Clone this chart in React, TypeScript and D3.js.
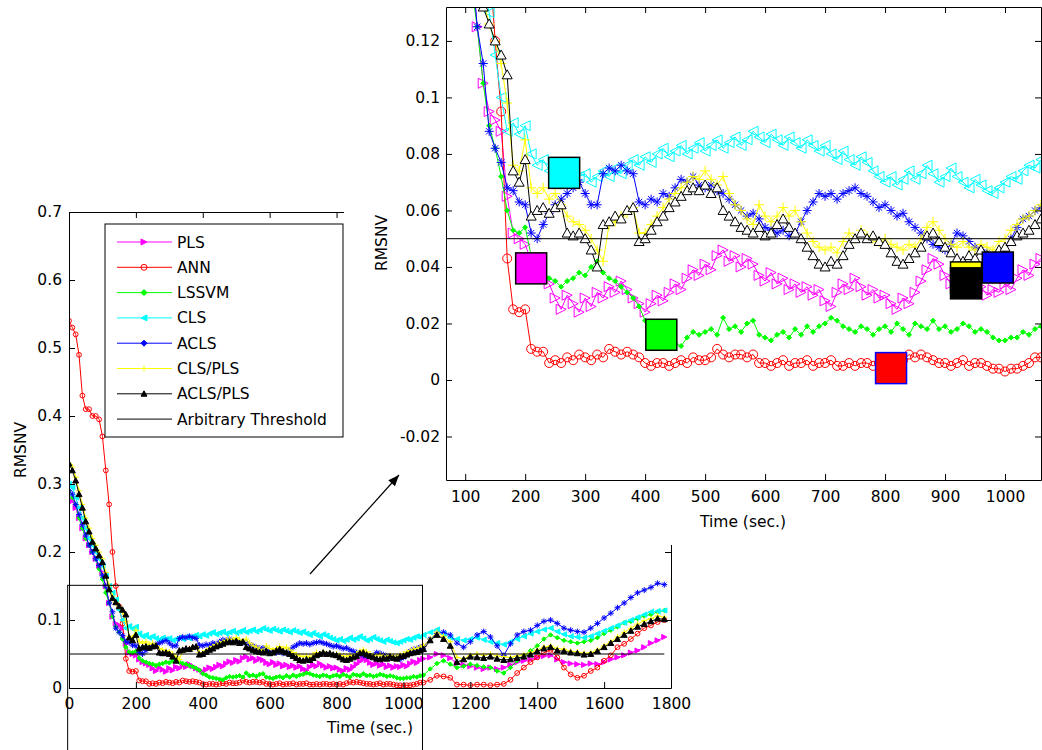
import * as d3 from "d3";
import React, { useRef, useEffect } from "react";

// sample grid: every 10 s up to 1060 s, every 20 s after that
const fineTimes = d3.range(0, 1061, 10);
const coarseTimes = d3.range(1080, 1781, 20);
const times = fineTimes.concat(coarseTimes);

const methods = ["PLS", "ANN", "LSSVM", "CLS", "ACLS", "CLS/PLS", "ACLS/PLS"];
const colors = ["#ff00ff", "#ff0000", "#00ff00", "#00ffff", "#0000ff", "#ffff00", "#000000"];
const markers = ["right", "circle", "diamond", "left", "star", "plus", "up"];

const pls = [
  0.28, 0.275, 0.265, 0.25, 0.235, 0.22, 0.21, 0.20, 0.19, 0.18,
  0.17, 0.15, 0.125, 0.105, 0.095, 0.092, 0.088, 0.065, 0.052, 0.05,
  0.048, 0.042, 0.038, 0.036, 0.034, 0.029, 0.025, 0.030, 0.027, 0.024,
  0.029, 0.026, 0.031, 0.029, 0.033, 0.031, 0.035, 0.032, 0.029, 0.027,
  0.024, 0.027, 0.030, 0.028, 0.031, 0.034, 0.032, 0.036, 0.039, 0.037,
  0.041, 0.039, 0.044, 0.046, 0.042, 0.044, 0.040, 0.043, 0.041, 0.037,
  0.035, 0.038, 0.034, 0.036, 0.032, 0.034, 0.031, 0.033, 0.030, 0.032,
  0.028, 0.026, 0.031, 0.034, 0.032, 0.036, 0.033, 0.030, 0.032, 0.029,
  0.030, 0.027, 0.025, 0.029, 0.027, 0.031, 0.035, 0.039, 0.043, 0.041,
  0.037, 0.034, 0.036, 0.033, 0.035, 0.031, 0.033, 0.030, 0.032, 0.031,
  0.034, 0.032, 0.036, 0.039, 0.037, 0.041, 0.043,
  0.045, 0.050, 0.048, 0.044, 0.036, 0.034, 0.032, 0.030, 0.028,
  0.030, 0.028, 0.030, 0.034, 0.038, 0.040, 0.042, 0.045, 0.047,
  0.048, 0.042, 0.038, 0.036, 0.035, 0.034, 0.036, 0.035, 0.038,
  0.042, 0.045, 0.048, 0.052, 0.055, 0.060, 0.066, 0.070, 0.075,
];

const ann = [
  0.54, 0.53, 0.52, 0.49, 0.43, 0.41, 0.41, 0.40, 0.40, 0.395,
  0.37, 0.32, 0.27, 0.20, 0.15, 0.12, 0.095, 0.043, 0.025, 0.024,
  0.025, 0.011, 0.010, 0.010, 0.006, 0.007, 0.006, 0.008, 0.007, 0.009,
  0.008, 0.007, 0.009, 0.008, 0.011, 0.010, 0.009, 0.010, 0.009, 0.008,
  0.006, 0.005, 0.006, 0.006, 0.005, 0.006, 0.007, 0.006, 0.008, 0.007,
  0.007, 0.008, 0.011, 0.009, 0.008, 0.009, 0.009, 0.008, 0.009, 0.006,
  0.006, 0.005, 0.006, 0.007, 0.005, 0.006, 0.006, 0.007, 0.005, 0.006,
  0.006, 0.007, 0.005, 0.005, 0.006, 0.005, 0.006, 0.006, 0.005, 0.006,
  0.005, 0.006, 0.005, 0.007, 0.009, 0.008, 0.009, 0.008, 0.007, 0.006,
  0.006, 0.005, 0.006, 0.007, 0.005, 0.006, 0.006, 0.005, 0.004, 0.004,
  0.003, 0.004, 0.004, 0.005, 0.006, 0.008, 0.008,
  0.012, 0.018, 0.017, 0.015, 0.005, 0.005, 0.004, 0.005, 0.005,
  0.004, 0.005, 0.006, 0.012, 0.022, 0.030, 0.038, 0.045, 0.052,
  0.056, 0.045, 0.030, 0.020, 0.015, 0.018, 0.025, 0.030, 0.040,
  0.048, 0.060, 0.065, 0.072, 0.080, 0.088, 0.092, 0.097, 0.100,
];

const lssvm = [
  0.29, 0.28, 0.27, 0.25, 0.235, 0.22, 0.21, 0.20, 0.19, 0.175,
  0.16, 0.14, 0.125, 0.105, 0.09, 0.082, 0.072, 0.06, 0.053, 0.052,
  0.054, 0.044, 0.040, 0.038, 0.036, 0.035, 0.033, 0.035, 0.036, 0.038,
  0.037, 0.040, 0.042, 0.038, 0.036, 0.035, 0.033, 0.031, 0.029, 0.026,
  0.021, 0.019, 0.016, 0.015, 0.014, 0.013, 0.012, 0.015, 0.017, 0.016,
  0.017, 0.018, 0.016, 0.022, 0.018, 0.019, 0.017, 0.020, 0.021, 0.016,
  0.015, 0.014, 0.016, 0.017, 0.015, 0.018, 0.016, 0.019, 0.017, 0.019,
  0.020, 0.022, 0.021, 0.019, 0.018, 0.017, 0.019, 0.018, 0.016, 0.018,
  0.019, 0.017, 0.020, 0.018, 0.016, 0.020, 0.019, 0.018, 0.021, 0.018,
  0.019, 0.017, 0.018, 0.020, 0.019, 0.017, 0.018, 0.017, 0.015, 0.014,
  0.014, 0.015, 0.015, 0.017, 0.016, 0.018, 0.019,
  0.028, 0.036, 0.040, 0.035, 0.030, 0.032, 0.035, 0.033, 0.031,
  0.030, 0.025, 0.022, 0.030, 0.040, 0.048, 0.055, 0.062, 0.072,
  0.078, 0.074, 0.070, 0.068, 0.066, 0.068, 0.070, 0.074, 0.080,
  0.085, 0.090, 0.096, 0.098, 0.102, 0.106, 0.108, 0.112, 0.114,
];

const cls = [
  0.30, 0.295, 0.28, 0.265, 0.25, 0.235, 0.22, 0.21, 0.20, 0.19,
  0.18, 0.165, 0.15, 0.14, 0.13, 0.115, 0.10, 0.088, 0.091, 0.087,
  0.090, 0.080, 0.076, 0.078, 0.074, 0.076, 0.073, 0.071, 0.074, 0.072,
  0.073, 0.070, 0.072, 0.074, 0.072, 0.075, 0.073, 0.076, 0.078, 0.076,
  0.079, 0.077, 0.080, 0.082, 0.079, 0.081, 0.083, 0.080, 0.082, 0.084,
  0.081, 0.083, 0.085, 0.082, 0.084, 0.086, 0.083, 0.085, 0.088, 0.086,
  0.084, 0.087, 0.085, 0.083, 0.086, 0.084, 0.082, 0.085, 0.083, 0.081,
  0.083, 0.080, 0.078, 0.081, 0.078, 0.076, 0.079, 0.077, 0.074, 0.072,
  0.070, 0.072, 0.069, 0.071, 0.074, 0.071, 0.073, 0.076, 0.073, 0.070,
  0.072, 0.075, 0.072, 0.070, 0.068, 0.071, 0.069, 0.067, 0.066, 0.068,
  0.070, 0.072, 0.071, 0.074, 0.076, 0.075, 0.078,
  0.082, 0.086, 0.080, 0.074, 0.072, 0.070, 0.072, 0.074, 0.071,
  0.068, 0.066, 0.064, 0.068, 0.072, 0.076, 0.080, 0.083, 0.086,
  0.088, 0.083, 0.079, 0.076, 0.075, 0.074, 0.076, 0.080, 0.084,
  0.088, 0.092, 0.096, 0.100, 0.104, 0.108, 0.112, 0.113, 0.114,
];

const acls = [
  0.29, 0.285, 0.27, 0.255, 0.24, 0.225, 0.21, 0.20, 0.19, 0.18,
  0.165, 0.15, 0.125, 0.112, 0.088, 0.082, 0.077, 0.068, 0.067, 0.063,
  0.062, 0.052, 0.050, 0.055, 0.059, 0.062, 0.064, 0.066, 0.068, 0.070,
  0.066, 0.062, 0.062, 0.073, 0.075, 0.074, 0.076, 0.074, 0.073, 0.063,
  0.062, 0.064, 0.063, 0.066, 0.065, 0.068, 0.071, 0.070, 0.072, 0.069,
  0.068, 0.069, 0.067, 0.066, 0.064, 0.062, 0.060, 0.058, 0.059, 0.057,
  0.054, 0.053, 0.052, 0.053, 0.051, 0.052, 0.056, 0.060, 0.063, 0.066,
  0.065, 0.066, 0.064, 0.066, 0.067, 0.068, 0.066, 0.065, 0.063, 0.061,
  0.062, 0.060, 0.058, 0.059, 0.056, 0.054, 0.052, 0.050, 0.048, 0.047,
  0.046, 0.048, 0.052, 0.051, 0.049, 0.047, 0.046, 0.045, 0.044, 0.042,
  0.045, 0.050, 0.054, 0.057, 0.058, 0.060, 0.061,
  0.072, 0.080, 0.082, 0.078, 0.066, 0.060, 0.068, 0.078, 0.083,
  0.075, 0.062, 0.048, 0.065, 0.078, 0.083, 0.085, 0.092, 0.098,
  0.100, 0.095, 0.088, 0.085, 0.083, 0.082, 0.088, 0.095, 0.103,
  0.110, 0.118, 0.125, 0.133, 0.140, 0.144, 0.148, 0.154, 0.152,
];

const clsPls = [
  0.33, 0.325, 0.31, 0.29, 0.27, 0.25, 0.235, 0.22, 0.21, 0.20,
  0.19, 0.17, 0.15, 0.135, 0.126, 0.12, 0.112, 0.098, 0.076, 0.074,
  0.085, 0.068, 0.066, 0.068, 0.064, 0.066, 0.062, 0.058, 0.056, 0.055,
  0.053, 0.050, 0.046, 0.042, 0.055, 0.056, 0.058, 0.059, 0.061, 0.052,
  0.052, 0.055, 0.058, 0.061, 0.064, 0.066, 0.068, 0.070, 0.072, 0.071,
  0.074, 0.071, 0.069, 0.072, 0.066, 0.062, 0.060, 0.057, 0.055, 0.062,
  0.058, 0.056, 0.058, 0.061, 0.058, 0.060, 0.056, 0.052, 0.049, 0.047,
  0.046, 0.047, 0.045, 0.049, 0.052, 0.050, 0.053, 0.051, 0.050, 0.049,
  0.050, 0.048, 0.047, 0.046, 0.048, 0.047, 0.050, 0.054, 0.056, 0.053,
  0.050, 0.048, 0.047, 0.049, 0.047, 0.046, 0.048, 0.047, 0.046, 0.049,
  0.050, 0.053, 0.055, 0.057, 0.058, 0.060, 0.062,
  0.072, 0.082, 0.076, 0.068, 0.045, 0.043, 0.048, 0.050, 0.048,
  0.050, 0.047, 0.046, 0.045, 0.047, 0.049, 0.052, 0.056, 0.060,
  0.062, 0.058, 0.057, 0.054, 0.053, 0.051, 0.052, 0.056, 0.062,
  0.068, 0.075, 0.082, 0.088, 0.094, 0.099, 0.102, 0.106, 0.104,
];

const aclsPls = [
  0.33, 0.32, 0.305, 0.285, 0.265, 0.245, 0.23, 0.215, 0.205, 0.195,
  0.185, 0.165, 0.145, 0.132, 0.126, 0.120, 0.115, 0.108, 0.074, 0.070,
  0.078, 0.058, 0.060, 0.061, 0.059, 0.061, 0.062, 0.052, 0.051, 0.052,
  0.050, 0.046, 0.040, 0.055, 0.056, 0.058, 0.057, 0.060, 0.061, 0.049,
  0.050, 0.053, 0.056, 0.058, 0.061, 0.063, 0.065, 0.067, 0.068, 0.067,
  0.069, 0.066, 0.068, 0.060, 0.058, 0.056, 0.054, 0.053, 0.052, 0.054,
  0.051, 0.052, 0.055, 0.057, 0.054, 0.052, 0.050, 0.047, 0.044, 0.041,
  0.040, 0.042, 0.041, 0.044, 0.048, 0.050, 0.052, 0.050, 0.051, 0.049,
  0.048, 0.045, 0.042, 0.041, 0.043, 0.045, 0.047, 0.051, 0.052, 0.049,
  0.047, 0.045, 0.043, 0.042, 0.044, 0.043, 0.046, 0.044, 0.043, 0.046,
  0.047, 0.049, 0.051, 0.052, 0.053, 0.055, 0.057,
  0.070, 0.078, 0.072, 0.062, 0.038, 0.042, 0.046, 0.045, 0.044,
  0.046, 0.043, 0.041, 0.042, 0.044, 0.046, 0.049, 0.054, 0.058,
  0.060, 0.055, 0.054, 0.052, 0.051, 0.049, 0.050, 0.054, 0.060,
  0.066, 0.072, 0.078, 0.084, 0.090, 0.094, 0.098, 0.102, 0.101,
];

const seriesValues = [pls, ann, lssvm, cls, acls, clsPls, aclsPls];

const threshold = 0.05;
const thresholdSpan = [0, 1780];

// detection squares on the zoomed panel (same order as methods)
const alarmTime = [210, 810, 427, 265, 988, 935, 935];
const alarmValue = [0.0395, 0.0042, 0.016, 0.0733, 0.0398, 0.0363, 0.0342];
const alarmEdge = ["#000", "#0000ff", "#000", "#000", "#000", "#000", "#000"];

const mainTicksX = [0, 200, 400, 600, 800, 1000, 1200, 1400, 1600, 1800];
const mainTicksY = [0, 0.1, 0.2, 0.3, 0.4, 0.5, 0.6, 0.7];
const insetTicksX = [100, 200, 300, 400, 500, 600, 700, 800, 900, 1000];
const insetTicksY = [-0.02, 0, 0.02, 0.04, 0.06, 0.08, 0.1, 0.12];

// zoom box drawn on the full plot
const zoomBoxT = [-4, 1057];
const zoomBoxV = [-0.1, 0.151];

const FONT = "DejaVu Sans";
const FS = 15.5;

function markerPath(kind: string, r: number) {
  const k = r * 0.7;
  switch (kind) {
    case "right": return `M${-r},${-r}L${r},0L${-r},${r}Z`;
    case "left": return `M${r},${-r}L${-r},0L${r},${r}Z`;
    case "up": return `M0,${-r}L${r},${r * 0.8}L${-r},${r * 0.8}Z`;
    case "circle": return `M${r},0A${r},${r} 0 1,1 ${-r},0A${r},${r} 0 1,1 ${r},0Z`;
    case "plus": return `M${-r},0L${r},0M0,${-r}L0,${r}`;
    case "star": return `M${-r},0L${r},0M0,${-r}L0,${r}M${-k},${-k}L${k},${k}M${-k},${k}L${k},${-k}`;
    default: return `M0,${-r}L${r},0L0,${r}L${-r},0Z`;
  }
}

function drawSeries(g: any, x: any, y: any, sizes: number[], fills: string[], tMin: number, tMax: number) {
  seriesValues.forEach((vals, i) => {
    const pts = times
      .map((t, j) => [t, vals[j]] as [number, number])
      .filter(p => p[1] !== undefined && p[0] >= tMin && p[0] <= tMax);
    const line = d3.line<[number, number]>().x(d => x(d[0])).y(d => y(d[1]));
    g.append("path")
      .attr("d", line(pts))
      .attr("fill", "none")
      .attr("stroke", colors[i])
      .attr("stroke-width", 1);
    g.selectAll(null)
      .data(pts)
      .enter()
      .append("path")
      .attr("transform", (d: [number, number]) => `translate(${x(d[0])},${y(d[1])})`)
      .attr("d", markerPath(markers[i], sizes[i]))
      .attr("fill", fills[i])
      .attr("stroke", colors[i])
      .attr("stroke-width", 1);
  });
}

function styleAxis(g: any) {
  g.attr("font-family", FONT).attr("font-size", FS);
  g.selectAll("path, line").attr("stroke", "#000");
  g.selectAll("text").attr("fill", "#000");
}

const plain = (d: any) => String(d);

function App() {
  const ref = useRef<SVGSVGElement>(null);

  useEffect(() => {
    const svg = d3.select(ref.current);
    svg.selectAll("*").remove();

    // ---------- main plot ----------
    const x = d3.scaleLinear().domain([0, 1800]).range([69, 671]);
    const y = d3.scaleLinear().domain([0, 0.7]).range([688, 212]);

    svg.append("clipPath").attr("id", "mainClip")
      .append("rect").attr("x", 69).attr("y", 212).attr("width", 602).attr("height", 476);

    const plot = svg.append("g").attr("clip-path", "url(#mainClip)");
    drawSeries(plot, x, y,
      [2.6, 2.4, 2.2, 2.6, 3, 3, 3],
      ["#ff00ff", "none", "#00ff00", "#00ffff", "none", "none", "#000"],
      0, 1800);
    plot.append("line")
      .attr("x1", x(thresholdSpan[0])).attr("x2", x(thresholdSpan[1]))
      .attr("y1", y(threshold)).attr("y2", y(threshold))
      .attr("stroke", "#000").attr("stroke-width", 1);

    styleAxis(svg.append("g").attr("transform", "translate(0,688)")
      .call(d3.axisBottom(x).tickValues(mainTicksX).tickSizeInner(-6).tickSizeOuter(0).tickPadding(10).tickFormat(plain)));
    styleAxis(svg.append("g").attr("transform", "translate(0,212)")
      .call(d3.axisTop(x).tickValues(mainTicksX).tickSizeInner(-6).tickSizeOuter(0).tickFormat(() => "")));
    styleAxis(svg.append("g").attr("transform", "translate(69,0)")
      .call(d3.axisLeft(y).tickValues(mainTicksY).tickSizeInner(-6).tickSizeOuter(0).tickPadding(7).tickFormat(plain)));
    styleAxis(svg.append("g").attr("transform", "translate(671,0)")
      .call(d3.axisRight(y).tickValues(mainTicksY).tickSizeInner(-6).tickSizeOuter(0).tickFormat(() => "")));

    svg.append("text").text("Time (sec.)")
      .attr("x", 370).attr("y", 733).attr("text-anchor", "middle")
      .attr("font-family", FONT).attr("font-size", FS);
    svg.append("text").text("RMSNV")
      .attr("transform", "translate(26,450) rotate(-90)").attr("text-anchor", "middle")
      .attr("font-family", FONT).attr("font-size", FS);

    // legend
    const legend = svg.append("g");
    legend.append("rect")
      .attr("x", 105).attr("y", 224).attr("width", 238).attr("height", 213)
      .attr("fill", "#fff").attr("stroke", "#000");
    const legendNames = methods.concat(["Arbitrary Threshold"]);
    const legendFills = ["#ff00ff", "none", "#00ff00", "#00ffff", "#0000ff", "none", "#000"];
    legendNames.forEach((name, i) => {
      const ly = 242 + i * 25.3;
      const c = i < colors.length ? colors[i] : "#000";
      legend.append("line").attr("x1", 117).attr("x2", 172).attr("y1", ly).attr("y2", ly)
        .attr("stroke", c).attr("stroke-width", 1);
      if (i < colors.length) {
        legend.append("path")
          .attr("transform", `translate(144,${ly})`)
          .attr("d", markerPath(markers[i] === "star" ? "diamond" : markers[i], 3))
          .attr("fill", legendFills[i]).attr("stroke", c);
      }
      legend.append("text").text(name)
        .attr("x", 177).attr("y", ly).attr("dy", "0.36em")
        .attr("font-family", FONT).attr("font-size", FS);
    });

    // zoom box
    svg.append("rect")
      .attr("x", x(zoomBoxT[0])).attr("y", y(zoomBoxV[1]))
      .attr("width", x(zoomBoxT[1]) - x(zoomBoxT[0]))
      .attr("height", y(zoomBoxV[0]) - y(zoomBoxV[1]))
      .attr("fill", "none").attr("stroke", "#000").attr("stroke-width", 1);

    // ---------- zoomed inset ----------
    svg.append("rect").attr("x", 344).attr("y", 0).attr("width", 698).attr("height", 545).attr("fill", "#fff");

    const xi = d3.scaleLinear().domain([68, 1060]).range([446, 1041]);
    const yi = d3.scaleLinear().domain([-0.0354, 0.132]).range([480, 7]);

    svg.append("clipPath").attr("id", "insetClip")
      .append("rect").attr("x", 446).attr("y", 7).attr("width", 595).attr("height", 473);

    const inset = svg.append("g").attr("clip-path", "url(#insetClip)");
    drawSeries(inset, xi, yi,
      [5, 4.5, 2.5, 5, 4.5, 5, 5],
      ["none", "none", "#00ff00", "none", "none", "none", "#fff"],
      40, 1080);
    inset.append("line")
      .attr("x1", 446).attr("x2", 1041)
      .attr("y1", yi(threshold)).attr("y2", yi(threshold))
      .attr("stroke", "#000").attr("stroke-width", 1);
    methods.forEach((m, i) => {
      inset.append("rect")
        .attr("x", xi(alarmTime[i]) - 15.5).attr("y", yi(alarmValue[i]) - 15.5)
        .attr("width", 31).attr("height", 31)
        .attr("fill", colors[i]).attr("stroke", alarmEdge[i]).attr("stroke-width", 1.5);
    });

    styleAxis(svg.append("g").attr("transform", "translate(0,480)")
      .call(d3.axisBottom(xi).tickValues(insetTicksX).tickSizeInner(-6).tickSizeOuter(0).tickPadding(11).tickFormat(plain)));
    styleAxis(svg.append("g").attr("transform", "translate(0,7)")
      .call(d3.axisTop(xi).tickValues(insetTicksX).tickSizeInner(-6).tickSizeOuter(0).tickFormat(() => "")));
    styleAxis(svg.append("g").attr("transform", "translate(446,0)")
      .call(d3.axisLeft(yi).tickValues(insetTicksY).tickSizeInner(-6).tickSizeOuter(0).tickPadding(6).tickFormat(plain)));
    styleAxis(svg.append("g").attr("transform", "translate(1041,0)")
      .call(d3.axisRight(yi).tickValues(insetTicksY).tickSizeInner(-6).tickSizeOuter(0).tickFormat(() => "")));

    svg.append("text").text("Time (sec.)")
      .attr("x", 743).attr("y", 527).attr("text-anchor", "middle")
      .attr("font-family", FONT).attr("font-size", FS);
    svg.append("text").text("RMSNV")
      .attr("transform", "translate(387,243) rotate(-90)").attr("text-anchor", "middle")
      .attr("font-family", FONT).attr("font-size", FS);

    // arrow from the zoom box to the inset
    const ax1 = 310, ay1 = 574, ax2 = 399, ay2 = 475;
    const ang = Math.atan2(ay2 - ay1, ax2 - ax1);
    svg.append("line").attr("x1", ax1).attr("y1", ay1).attr("x2", ax2).attr("y2", ay2)
      .attr("stroke", "#000").attr("stroke-width", 1.2);
    const hl = 11, hw = 4.5;
    const bx = ax2 - hl * Math.cos(ang), by = ay2 - hl * Math.sin(ang);
    svg.append("path")
      .attr("d", `M${ax2},${ay2}L${bx + hw * Math.sin(ang)},${by - hw * Math.cos(ang)}L${bx - hw * Math.sin(ang)},${by + hw * Math.cos(ang)}Z`)
      .attr("fill", "#000");
  }, []);

  return (
    <svg ref={ref} width={1042} height={750}
      style={{ position: "absolute", left: 0, top: 0, background: "#fff" }} />
  );
}

export default App;
